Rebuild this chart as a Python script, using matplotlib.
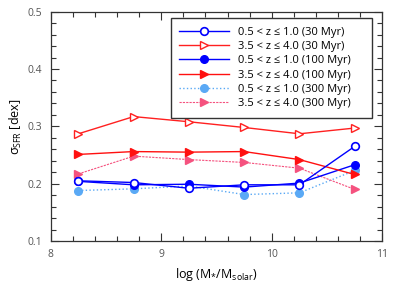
import matplotlib
matplotlib.use('Agg')
import matplotlib.pyplot as plt
from matplotlib.ticker import MultipleLocator

plt.rcParams['font.family'] = ['Open Sans', 'DejaVu Sans']
plt.rcParams['mathtext.fontset'] = 'custom'
plt.rcParams['mathtext.rm'] = 'Open Sans'
plt.rcParams['mathtext.it'] = 'Open Sans'

# log stellar mass bin centres
mass = [8.25, 8.75, 9.25, 9.75, 10.25, 10.75]

# scatter in SFR [dex]
lowz_30 = [0.205, 0.202, 0.192, 0.198, 0.198, 0.265]
highz_30 = [0.287, 0.317, 0.308, 0.298, 0.287, 0.297]
lowz_100 = [0.204, 0.198, 0.199, 0.194, 0.201, 0.233]
highz_100 = [0.251, 0.256, 0.255, 0.256, 0.242, 0.216]
lowz_300 = [0.188, 0.191, 0.196, 0.181, 0.184, 0.223]
highz_300 = [0.217, 0.248, 0.242, 0.237, 0.227, 0.190]

labels = ['0.5 < z ≤ 1.0 (30 Myr)', '3.5 < z ≤ 4.0 (30 Myr)',
          '0.5 < z ≤ 1.0 (100 Myr)', '3.5 < z ≤ 4.0 (100 Myr)',
          '0.5 < z ≤ 1.0 (300 Myr)', '3.5 < z ≤ 4.0 (300 Myr)']

fig = plt.figure(figsize=(4.15, 2.9), dpi=100)
ax = fig.add_axes([0.1222, 0.169, 0.799, 0.7907])

ms = 5.5
ax.plot(mass, lowz_30, '-o', color='#0000ff', mfc='white', mec='#0000ff',
        ms=ms, mew=1.2, lw=1.0, label=labels[0], zorder=6)
ax.plot(mass, highz_30, '->', color='#ff2020', mfc='white', mec='#ff2020',
        ms=ms, mew=1.0, lw=1.0, label=labels[1], zorder=5)
ax.plot(mass, lowz_100, '-o', color='#0000ff', ms=ms, lw=1.0,
        label=labels[2], zorder=4)
ax.plot(mass, highz_100, '->', color='#ff1010', ms=ms, lw=1.0,
        label=labels[3], zorder=4)
ax.plot(mass, lowz_300, ':o', color='#5aa9f5', ms=ms, lw=1.0,
        label=labels[4], zorder=3)
ax.plot(mass, highz_300, '-->', color='#f5527f', ms=ms, lw=0.8,
        dashes=(2, 1), label=labels[5], zorder=3)

ax.set_xlim(8, 11)
ax.set_ylim(0.1, 0.5)
ax.xaxis.set_major_locator(MultipleLocator(1))
ax.xaxis.set_minor_locator(MultipleLocator(0.2))
ax.yaxis.set_major_locator(MultipleLocator(0.1))
ax.yaxis.set_minor_locator(MultipleLocator(0.02))
ax.tick_params(which='both', direction='in', top=True, right=True,
               labelsize=7.5, labelcolor='#555555', width=0.8,
               color='#333333')
ax.tick_params(which='major', length=6, pad=6)
ax.tick_params(which='minor', length=3.6)
for s in ax.spines.values():
    s.set_linewidth(0.9)
    s.set_color('#333333')

ax.set_xlabel(r'log (M$_{*}$/M$_{\rm solar}$)', fontsize=9, labelpad=4)
ax.set_ylabel(r'$\sigma_{\rm SFR}$ [dex]', fontsize=9, labelpad=3)

leg = ax.legend(loc='upper left', bbox_to_anchor=(0.363, 0.5, 0.606, 0.471),
                mode='expand', borderaxespad=0, fontsize=8, frameon=True,
                fancybox=False, edgecolor='#333333', framealpha=1,
                handlelength=4.5, handletextpad=0.8, labelspacing=0.3,
                borderpad=0.75)
leg.get_frame().set_linewidth(1.0)

fig.savefig('out.png', dpi=100)
